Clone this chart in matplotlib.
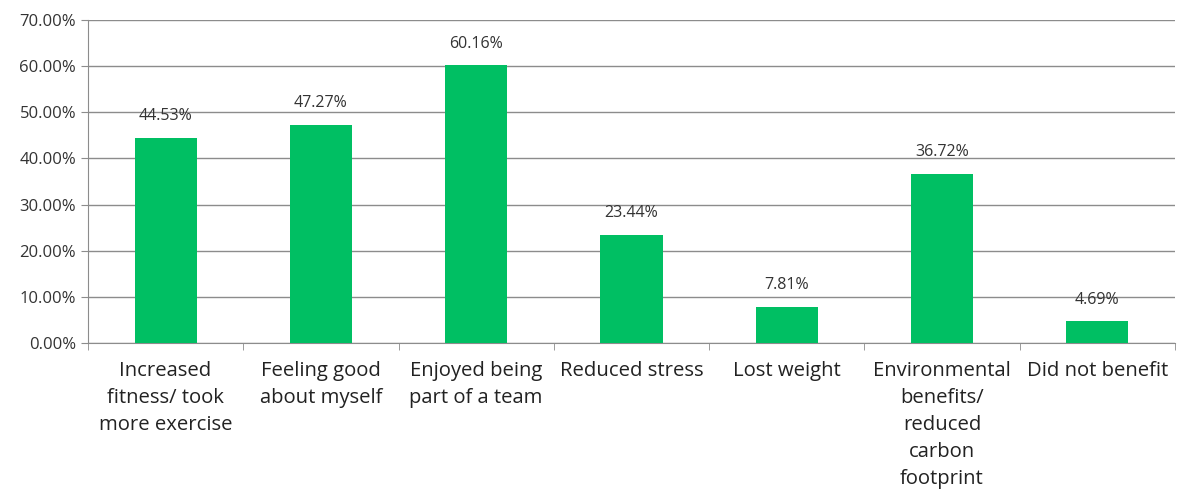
import numpy as np
import matplotlib.pyplot as plt
from matplotlib.ticker import FuncFormatter, FixedLocator

# Datos
categorias = ['Increased\nfitness/ took\nmore exercise', 'Feeling good\nabout myself',
              'Enjoyed being\npart of a team', 'Reduced stress', 'Lost weight',
              'Environmental\nbenefits/\nreduced\ncarbon\nfootprint', 'Did not benefit']
valores = [44.53, 47.27, 60.16, 23.44, 7.81, 36.72, 4.69]

plt.rcParams['font.family'] = ['Open Sans', 'DejaVu Sans']

fig = plt.figure(figsize=(11.79, 5.01), dpi=100)
ax = fig.add_axes([0.0746, 0.3154, 0.922, 0.6446])

x = np.arange(len(categorias))
ax.bar(x, valores, width=0.4, color='#00BF63', zorder=3)

for xi, v in zip(x, valores):
    ax.text(xi, v + 3.0, f'{v:.2f}%', ha='center', va='bottom', fontsize=11.5, color='#333333')

ax.set_xlim(-0.5, len(categorias) - 0.5)
ax.set_ylim(0, 70)
ax.set_yticks(np.arange(0, 71, 10))
ax.yaxis.set_major_formatter(FuncFormatter(lambda v, p: f'{v:.2f}%'))
ax.grid(axis='y', color='#8c8c8c', linewidth=1, zorder=0)

ax.set_xticks(x)
ax.set_xticklabels(categorias, fontsize=14.6, color='#222222', linespacing=1.46)
ax.tick_params(axis='x', which='major', length=0, pad=13)
ax.xaxis.set_minor_locator(FixedLocator(np.arange(-0.5, len(categorias), 1)))
ax.tick_params(axis='x', which='minor', length=5, color='#8c8c8c')
ax.tick_params(axis='y', length=5, color='#8c8c8c', labelsize=12, labelcolor='#333333')

for s in ['top', 'right']:
    ax.spines[s].set_visible(False)
for s in ['left', 'bottom']:
    ax.spines[s].set_color('#8c8c8c')

plt.savefig('out.png', dpi=100)
